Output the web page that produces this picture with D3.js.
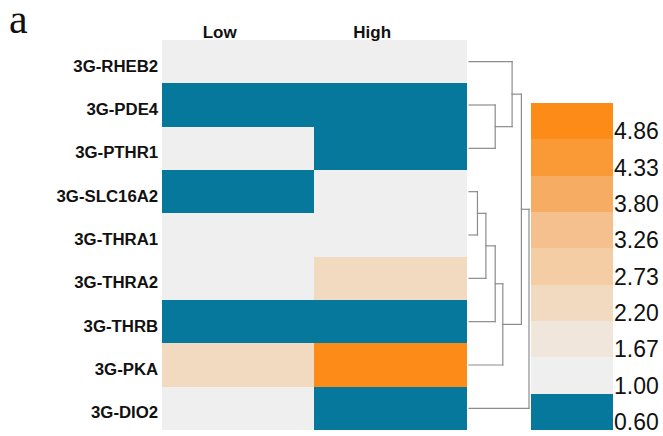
<!DOCTYPE html>
<html>
<head>
<meta charset="utf-8">
<script src="https://cdn.jsdelivr.net/npm/d3@7"></script>
<style>
  html, body { margin: 0; padding: 0; background: #ffffff; }
  svg { display: block; }
</style>
</head>
<body>
<svg id="chart" width="663" height="436"></svg>
<script>
// ---------------- data ----------------
const genes = ["3G-RHEB2", "3G-PDE4", "3G-PTHR1", "3G-SLC16A2", "3G-THRA1", "3G-THRA2", "3G-THRB", "3G-PKA", "3G-DIO2"];
const groups = ["Low", "High"];
const lowValues  = [1.00, 0.60, 1.00, 0.60, 1.00, 1.00, 0.60, 2.30, 1.00];
const highValues = [1.00, 0.60, 0.60, 1.00, 1.00, 2.30, 0.60, 4.95, 0.60];
// legend: break labels (bottom of each band, from low to high) and band colours
const legendLabels = ["0.60", "1.00", "1.67", "2.20", "2.73", "3.26", "3.80", "4.33", "4.86"];
const legendColors = ["#06789c", "#efefef", "#f0e6dc", "#f2dac0", "#f4cda5", "#f5c08e", "#f6ad63", "#f99a37", "#fc8c17"];
// row dendrogram merges: [childA, childB, height]; leaves are gene indices, nodes "n<k>"
const merges = [
  [3, 4, 1.0],          // n0 SLC16A2 + THRA1
  ["n0", 5, 2.0],       // n1 + THRA2
  ["n1", 6, 3.1],       // n2 + THRB
  [1, 2, 3.1],          // n3 PDE4 + PTHR1
  ["n2", 7, 4.0],       // n4 + PKA
  [0, "n3", 5.1],       // n5 RHEB2 + (PDE4,PTHR1)
  ["n5", "n4", 6.2],    // n6
  ["n6", 8, 7.1]        // n7 + DIO2
];

// ---------------- layout ----------------
const svg = d3.select("#chart");
const heat = { left: 161.7, right: 466.7, top: 40, bottom: 430 };
const leg = { left: 531, right: 613, top: 103, bottom: 430 };

const x = d3.scaleBand().domain(groups).range([heat.left, heat.right]).padding(0);
const y = d3.scaleBand().domain(genes).range([heat.top, heat.bottom]).padding(0);

const color = d3.scaleThreshold()
  .domain(legendLabels.slice(1).map(Number))
  .range(legendColors);

// panel letter
svg.append("text")
  .attr("x", 9).attr("y", 33)
  .attr("font-family", "Liberation Serif, Times New Roman, serif")
  .attr("font-size", 42)
  .attr("fill", "#111")
  .text("a");

// cells
const cells = [];
genes.forEach((g, i) => {
  cells.push({ gene: g, group: "Low", v: lowValues[i] });
  cells.push({ gene: g, group: "High", v: highValues[i] });
});
svg.append("g").selectAll("rect").data(cells).join("rect")
  .attr("x", d => x(d.group))
  .attr("y", d => y(d.gene))
  .attr("width", x.bandwidth())
  .attr("height", y.bandwidth())
  .attr("fill", d => color(d.v))
  .attr("shape-rendering", "crispEdges");

// column headers
svg.append("g").selectAll("text").data(groups).join("text")
  .attr("x", d => x(d) + x.bandwidth() * 0.38)
  .attr("y", 38)
  .attr("text-anchor", "middle")
  .attr("font-family", "Liberation Sans, Arial, sans-serif")
  .attr("font-weight", "bold")
  .attr("font-size", 17)
  .attr("fill", "#111")
  .text(d => d);

// row labels
svg.append("g").selectAll("text").data(genes).join("text")
  .attr("x", heat.left - 3.5)
  .attr("y", d => y(d) + y.bandwidth() / 2 + 4)
  .attr("dy", "0.35em")
  .attr("text-anchor", "end")
  .attr("font-family", "Liberation Sans, Arial, sans-serif")
  .attr("font-weight", "bold")
  .attr("font-size", 16.8)
  .attr("fill", "#111")
  .text(d => d);

// dendrogram
const maxH = d3.max(merges, m => m[2]);
const dx = d3.scaleLinear().domain([0, maxH]).range([469, 529]);
const nodes = {};
const pos = key => {
  if (typeof key === "number") return { h: 0, y: y(genes[key]) + y.bandwidth() / 2 };
  return nodes[key];
};
const segs = [];
merges.forEach((m, k) => {
  const a = pos(m[0]), b = pos(m[1]);
  const h = m[2];
  segs.push([dx(a.h), a.y, dx(h), a.y]);
  segs.push([dx(b.h), b.y, dx(h), b.y]);
  segs.push([dx(h), a.y, dx(h), b.y]);
  nodes["n" + k] = { h: h, y: (a.y + b.y) / 2 };
});
svg.append("g").selectAll("line").data(segs).join("line")
  .attr("x1", d => d[0]).attr("y1", d => d[1])
  .attr("x2", d => d[2]).attr("y2", d => d[3])
  .attr("stroke", "#8c8c8c")
  .attr("stroke-width", 1.2)
  .attr("stroke-linecap", "square");

// legend
const ly = d3.scaleBand().domain(d3.range(legendLabels.length).reverse())
  .range([leg.top, leg.bottom]).padding(0);
svg.append("g").selectAll("rect").data(legendLabels).join("rect")
  .attr("x", leg.left)
  .attr("y", (d, i) => ly(i))
  .attr("width", leg.right - leg.left)
  .attr("height", ly.bandwidth())
  .attr("fill", (d, i) => legendColors[i])
  .attr("shape-rendering", "crispEdges");
svg.append("g").selectAll("text").data(legendLabels).join("text")
  .attr("x", leg.right + 1)
  .attr("y", (d, i) => ly(i) + ly.bandwidth())
  .attr("font-family", "Liberation Sans, Arial, sans-serif")
  .attr("font-size", 23)
  .attr("fill", "#111")
  .text(d => d);
</script>
</body>
</html>
